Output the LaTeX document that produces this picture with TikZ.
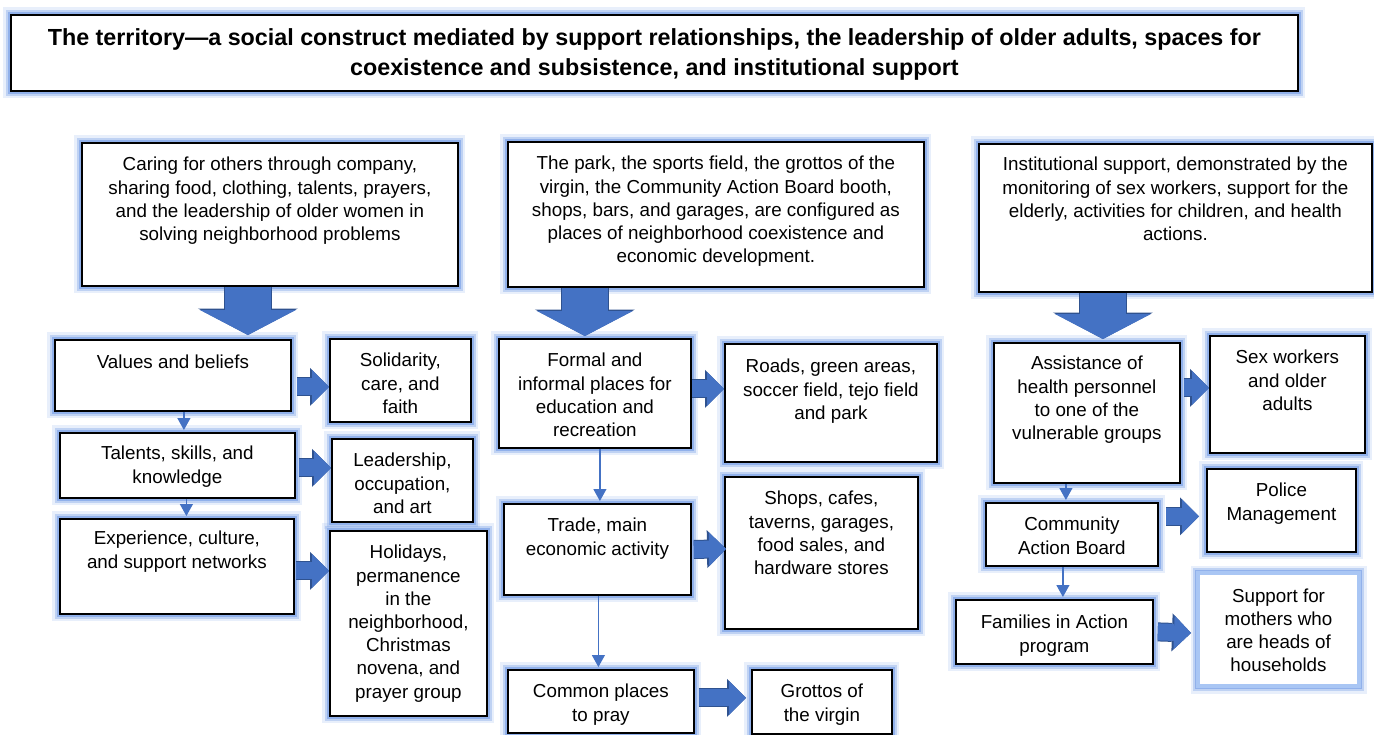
\documentclass[tikz,border=0pt]{standalone}
\usepackage{fontspec}
\setmainfont{Liberation Sans}
\usetikzlibrary{arrows.meta,calc}
\definecolor{arrowblue}{HTML}{4472C4}
\definecolor{arrowedge}{HTML}{2F528F}
\definecolor{glow}{HTML}{8CAEEA}
\definecolor{glowlight}{HTML}{A9C6F4}
% text block of a box: width, height, first baseline, text
\newcommand{\boxtext}[4]{\parbox[c][#2pt][t]{#1pt}{\centering\rule{0pt}{#3pt}#4}}
\begin{document}
\begin{tikzpicture}[x=1pt,y=-1pt]
  \tikzstyle{box}=[draw=black, line width=1.8pt, fill=white, inner sep=0pt, anchor=north west,
    font=\fontsize{18.8}{23.2}\selectfont,
    preaction={draw=glow, line width=15pt, draw opacity=0.2},
    preaction={draw=glow, line width=10pt, draw opacity=0.45},
    preaction={draw=glow, line width=6pt, draw opacity=0.9}]
  \tikzstyle{openbox}=[box, draw=glowlight, line width=4pt]
  \tikzstyle{link}=[draw=arrowblue, line width=1.2pt, -{Triangle[width=13pt,length=12pt]}, shorten >=2pt]
  \tikzstyle{fatright}=[draw=arrowblue, line width=17pt, -{Triangle[width=34pt,length=17pt,line width=0pt]},
    preaction={draw=arrowedge, line width=19pt, -{Triangle[width=38pt,length=19pt,line width=0pt]}}]
  \tikzstyle{fatdown}=[draw=arrowblue, line width=46pt, -{Triangle[width=96pt,length=25pt,line width=0pt]},
    preaction={draw=arrowedge, line width=48pt, -{Triangle[width=100pt,length=26.5pt,line width=0pt]}}]
  \useasboundingbox (0,0) rectangle (1374,734);

  \node[box] (title) at (10,14) {\boxtext{1287}{76}{31}{\bfseries\fontsize{23.3}{29.5}\selectfont The territory—a social construct mediated by support relationships, the leadership of older adults, spaces for\\coexistence and subsistence, and institutional support}};

  % caring column
  \node[box] (care) at (81,142) {\boxtext{376}{143}{28}{Caring for others through company,\\sharing food, clothing, talents, prayers,\\and the leadership of older women in\\solving neighborhood problems}};
  \node[box] (values) at (54,339) {\boxtext{236}{71}{29}{Values and beliefs}};
  \node[box] (solid) at (329,338) {\boxtext{141}{83}{28}{Solidarity,\\care, and\\faith}};
  \node[box] (talents) at (59,432) {\boxtext{235}{65}{27}{Talents, skills, and\\knowledge}};
  \node[box] (lead) at (331,438) {\boxtext{141}{83}{28}{Leadership,\\occupation,\\and art}};
  \node[box] (exper) at (59,518) {\boxtext{234}{95}{26}{Experience, culture,\\and support networks}};
  \node[box] (holid) at (329,530) {\boxtext{157}{185}{28}{Holidays,\\permanence\\in the\\neighborhood,\\Christmas\\novena, and\\prayer group}};

  % places column
  \node[box] (places) at (507,141) {\boxtext{416}{145}{28}{The park, the sports field, the grottos of the\\virgin, the Community Action Board booth,\\shops, bars, and garages, are configured as\\places of neighborhood coexistence and\\economic development.}};
  \node[box] (formal) at (498,338) {\boxtext{192}{109}{28}{Formal and\\informal places for\\education and\\recreation}};
  \node[box] (roads) at (724,343) {\boxtext{212}{118}{29}{Roads, green areas,\\soccer field, tejo field\\and park}};
  \node[box] (trade) at (503,503) {\boxtext{187}{91}{28}{Trade, main\\economic activity}};
  \node[box] (shops) at (724,476) {\boxtext{193}{152}{28}{Shops, cafes,\\taverns, garages,\\food sales, and\\hardware stores}};
  \node[box] (pray) at (507,669) {\boxtext{186}{63}{28}{Common places\\to pray}};
  \node[box] (grotto) at (751,669) {\boxtext{140}{64}{28}{Grottos of\\the virgin}};

  % institutional column
  \node[box] (inst) at (978,143) {\boxtext{393}{148}{27}{Institutional support, demonstrated by the\\monitoring of sex workers, support for the\\elderly, activities for children, and health\\actions.}};
  \node[box] (assist) at (993,342) {\boxtext{186}{140}{27}{Assistance of\\health personnel\\to one of the\\vulnerable groups}};
  \node[box] (sexw) at (1209,335) {\boxtext{155}{117}{28}{Sex workers\\and older\\adults}};
  \node[box] (board) at (985,502) {\boxtext{172}{63}{28}{Community\\Action Board}};
  \node[box] (police) at (1206,468) {\boxtext{149}{83}{28}{Police\\Management}};
  \node[box] (famil) at (955,599) {\boxtext{197}{64}{29}{Families in Action\\program}};
  \node[openbox] (mothers) at (1196,571) {\boxtext{161}{113}{29}{Support for\\mothers who\\are heads of\\households}};

  % big arrows
  \draw[fatdown] ($(care.south)+(-22,0)$) -- ($(values.north)+(75,-4)$);
  \draw[fatdown] ($(places.south)+(-131,0)$) -- ($(formal.north)+(-10,-2)$);
  \draw[fatdown] ($(inst.south)+(-72.5,0)$) -- ($(assist.north)+(16,-3)$);

  % thin links
  \draw[link] ($(values.south)+(11,0)$) -- ($(talents.north)+(6.5,0)$);
  \draw[link] ($(talents.south)+(9,0)$) -- ($(exper.north)+(9.5,0)$);
  \draw[link] ($(formal.south)+(5,0)$) -- ($(trade.north)+(2.5,0)$);
  \draw[link] ($(trade.south)+(1,0)$) -- ($(pray.north)+(-2.5,0)$);
  \draw[link] ($(assist.south)+(-21,0)$) -- ($(board.north)+(-6,0)$);
  \draw[link] ($(board.south)+(-9,0)$) -- ($(famil.north)+(8.5,0)$);

  % side arrows
  \draw[fatright] ($(values.east)+(5,11.5)$) -- ($(solid.west)+(0,6.5)$);
  \draw[fatright] ($(talents.east)+(3,2.5)$) -- ($(lead.west)+(0,-12.5)$);
  \draw[fatright] ($(exper.east)+(1,4.5)$) -- ($(holid.west)+(0,-52.5)$);
  \draw[fatright] ($(formal.east)+(0,-4.5)$) -- ($(roads.west)+(0,-14)$);
  \draw[fatright] ($(trade.east)+(2,0)$) -- ($(shops.west)+(2,-4)$);
  \draw[fatright] ($(pray.east)+(4,-3.5)$) -- ($(grotto.west)+(-5,-4)$);
  \draw[fatright] ($(assist.east)+(3,-25)$) -- ($(sexw.west)+(0,-6.5)$);
  \draw[fatright] ($(board.east)+(7,-18)$) -- ($(police.west)+(-7,6)$);
  \draw[fatright] ($(famil.east)+(4,0)$) -- ($(mothers.west)+(-5,3.5)$);
\end{tikzpicture}
\end{document}
